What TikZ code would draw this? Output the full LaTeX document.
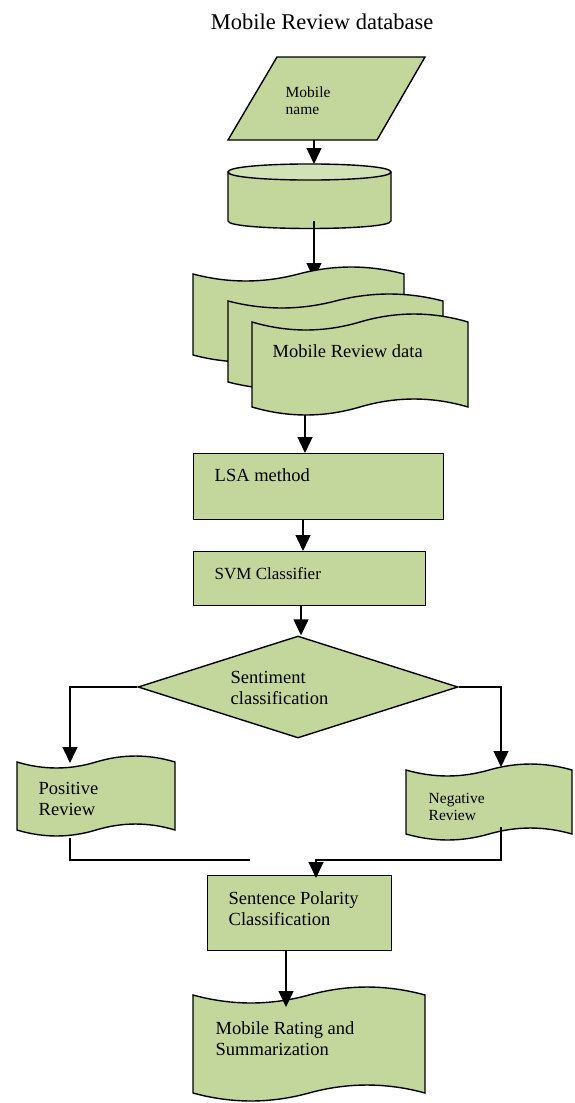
\documentclass[tikz,border=0pt]{standalone}
\usepackage{fontspec}
\setmainfont{Liberation Serif}
\usetikzlibrary{arrows.meta,shapes.geometric}
\definecolor{boxgreen}{HTML}{C3D69B}
\definecolor{topgreen}{HTML}{D3E1B6}

% wavy document: left, right, top, bottom, wave height
\newcommand{\wavedoc}[5]{%
  \filldraw[greenfill] (#1,#3)
    .. controls ({#1+(#2-#1)/6},{#3+1.33*#5}) and ({#1+(#2-#1)/3},{#3+1.33*#5}) .. ({(#1+#2)/2},#3)
    .. controls ({#1+2*(#2-#1)/3},{#3-1.33*#5}) and ({#1+5*(#2-#1)/6},{#3-1.33*#5}) .. (#2,#3)
    -- (#2,#4)
    .. controls ({#1+5*(#2-#1)/6},{#4-1.33*#5}) and ({#1+2*(#2-#1)/3},{#4-1.33*#5}) .. ({(#1+#2)/2},#4)
    .. controls ({#1+(#2-#1)/3},{#4+1.33*#5}) and ({#1+(#2-#1)/6},{#4+1.33*#5}) .. (#1,#4)
    -- cycle;}

\begin{document}
\begin{tikzpicture}[x=1pt,y=-1pt,line width=1.4pt,
    greenfill/.style={fill=boxgreen,draw=black},
    box/.style={greenfill,rectangle,inner sep=0pt,anchor=north west},
    arr/.style={-{Triangle[length=16pt,width=15pt]}},
    lbl/.style={inner sep=0pt,align=left,font=\fontsize{18.5}{21}\selectfont},
    small/.style={inner sep=0pt,align=left,font=\fontsize{15.5}{17}\selectfont}]
    \useasboundingbox (0,0) rectangle (575,1103);

    \node[inner sep=0pt,anchor=base,font=\fontsize{22.5}{27}\selectfont] (title) at (322,29) {Mobile Review database};

    % input
    \filldraw[greenfill] (277,57) -- (425,57) -- (377,140) -- (228,140) -- cycle;
    \node[small,anchor=north west] (nametext) at (285,86.5) {Mobile\\name};
    \coordinate (nameout) at (314,140);
    \coordinate (dbtop) at (314,164);
    \draw[arr] (nameout) -- (dbtop);

    % database
    \filldraw[greenfill] (228,172) -- (228,221)
        .. controls (228,231) and (391,231) .. (391,221) -- (391,172) -- cycle;
    \filldraw[fill=topgreen] (228,172) .. controls (228,161.3) and (391,161.3) .. (391,172)
        .. controls (391,182.7) and (228,182.7) .. (228,172);
    \coordinate (dbout) at (314,221);
    \coordinate (docin) at (314,279);
    \draw[arr] (dbout) -- (docin);

    % review data
    \wavedoc{193}{404}{274}{355}{7}
    \wavedoc{228}{443}{301}{382}{7}
    \wavedoc{252}{468}{322}{407}{8}
    \node[lbl,anchor=base west] (datatext) at (272,357) {Mobile Review data};

    \node[box,minimum width=250pt,minimum height=66pt] (lsa) at (193,453) {};
    \node[lbl,anchor=base west] (lsatext) at (214,481) {LSA method};
    \node[box,minimum width=232pt,minimum height=54pt] (svm) at (193,551) {};
    \node[inner sep=0pt,anchor=base west,font=\fontsize{17}{20}\selectfont] (svmtext) at (214,579) {SVM Classifier};
    \coordinate (docout) at (305,415);
    \coordinate (lsaout) at (303,519);
    \coordinate (svmout) at (301,605);
    \draw[arr] (docout) -- (docout |- lsa.north);
    \draw[arr] (lsaout) -- (lsaout |- svm.north);

    \node[diamond,greenfill,inner sep=0pt,minimum width=320pt,minimum height=102pt] (sentiment) at (298,687) {};
    \node[lbl,anchor=north west] (senttext) at (230,670.5) {Sentiment\\classification};
    \draw[arr] (svmout) -- (svmout |- sentiment.north);

    % positive / negative
    \wavedoc{17}{175}{762}{830}{6}
    \node[lbl,anchor=north west] (postext) at (38,781.5) {Positive\\Review};
    \wavedoc{406}{572}{770}{834}{6}
    \node[small,anchor=north west] (negtext) at (428,792.5) {Negative\\Review};
    \coordinate (postop) at (70,763);
    \coordinate (negtop) at (501,767);
    \draw[arr] (sentiment.west) -| (postop);
    \draw[arr] (sentiment.east) -| (negtop);

    \coordinate (posout) at (70,838);
    \coordinate (posend) at (250,860);
    \coordinate (negout) at (501,827);
    \coordinate (joinpt) at (316,860);
    \draw (posout) |- (posend);

    \node[box,minimum width=184pt,minimum height=75pt] (polarity) at (207,875) {};
    \node[lbl,anchor=north west] (poltext) at (228,890.5) {Sentence Polarity\\Classification};
    \draw[arr] (negout) |- (joinpt) -- ([yshift=-3pt]joinpt |- polarity.north);

    % result
    \wavedoc{193}{425}{995}{1093}{8}
    \node[lbl,anchor=north west] (ratetext) at (215,1020.5) {Mobile Rating and\\Summarization};
    \coordinate (polout) at (286,950);
    \coordinate (ratein) at (286,1007);
    \draw[arr] (polout) -- (ratein);
\end{tikzpicture}
\end{document}
